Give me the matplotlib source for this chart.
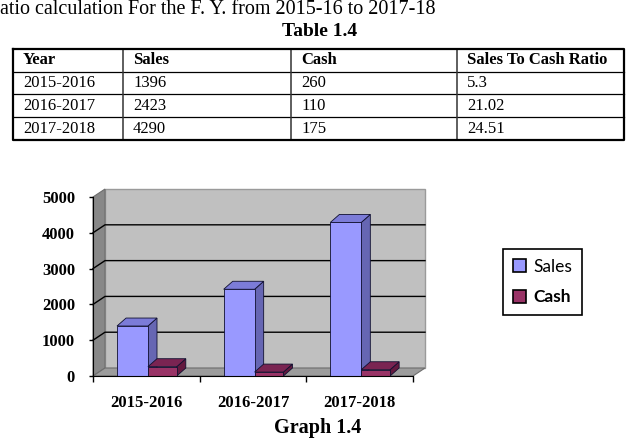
import numpy as np
import matplotlib.pyplot as plt
from matplotlib.patches import Polygon

# data
years = ['2015-2016', '2016-2017', '2017-2018']
sales = [1396, 2423, 4290]
cash = [260, 110, 175]
ratio = ['5.3', '21.02', '24.51']
header = ['Year', 'Sales', 'Cash', 'Sales To Cash Ratio']
yticks = [0, 1000, 2000, 3000, 4000, 5000]

W, H = 629, 444
fig = plt.figure(figsize=(W / 100, H / 100), dpi=100)

# page layer in pixel units (text + table)
page = fig.add_axes([0, 0, 1, 1])
page.set_xlim(0, W)
page.set_ylim(H, 0)
page.axis('off')

serif = 'Liberation Serif'
page.text(0, 10, 'atio calculation For the F. Y. from 2015-16 to 2017-18',
          family=serif, fontsize=14.5, va='center', ha='left')
page.text(320, 31, 'Table 1.4', family=serif, fontsize=14, fontweight='bold',
          va='center', ha='center')

cols = [13, 123, 291, 457, 624]
rows = np.linspace(49, 140, 5)
for yy in rows[1:-1]:
    page.plot([cols[0], cols[-1]], [yy, yy], color='black', lw=0.9)
for xx in cols[1:-1]:
    page.plot([xx, xx], [rows[0], rows[-1]], color='#333333', lw=1.1)
page.plot([cols[0], cols[-1], cols[-1], cols[0], cols[0]],
          [rows[0], rows[0], rows[-1], rows[-1], rows[0]], color='black', lw=1.6)

table_rows = [header] + [[years[i], str(sales[i]), str(cash[i]), ratio[i]] for i in range(3)]
for r, cells in enumerate(table_rows):
    yc = (rows[r] + rows[r + 1]) / 2
    for c, txt in enumerate(cells):
        page.text(cols[c] + 10, yc, txt, family=serif, fontsize=12,
                  fontweight='bold' if r == 0 else 'normal', va='center', ha='left')

page.text(318, 428, 'Graph 1.4', family=serif, fontsize=14.5, fontweight='bold',
          va='center', ha='center')

# chart: axes box is the front plane of the pseudo-3D plot
x0, x1, y0, y1 = 93, 413, 376, 197
ax = fig.add_axes([x0 / W, (H - y0) / H, (x1 - x0) / W, (y0 - y1) / H])
ax.set_xlim(0, 3)
ax.set_ylim(0, 5000)
ax.patch.set_visible(False)

dx, dy = 0.1125, 223      # wall depth
bdx, bdy = 0.085, 223     # bar depth
ymax = yticks[-1]

ax.add_patch(Polygon([(dx, dy), (3 + dx, dy), (3 + dx, ymax + dy), (dx, ymax + dy)],
                     fc='#C0C0C0', ec='#9A9A9A', lw=1, clip_on=False, zorder=0))
ax.add_patch(Polygon([(0, 0), (dx, dy), (dx, ymax + dy), (0, ymax)],
                     fc='#888888', ec='#6E6E6E', lw=0.8, clip_on=False, zorder=0.5))
ax.add_patch(Polygon([(0, 0), (3, 0), (3 + dx, dy), (dx, dy)],
                     fc='#9C9C9C', ec='#6E6E6E', lw=0.8, clip_on=False, zorder=0.5))
for v in yticks[1:-1]:
    ax.plot([0, dx, 3 + dx], [v, v + dy, v + dy], color='black', lw=1, clip_on=False, zorder=1)

xs = np.arange(len(years))
s_left, s_w = 0.225, 0.29
c_left, c_w = 0.515, 0.27


def bar3d(left, width, h, side, top, z):
    r = left + width
    ax.add_patch(Polygon([(r, 0), (r + bdx, bdy), (r + bdx, h + bdy), (r, h)],
                         fc=side, ec='#101030', lw=0.6, clip_on=False, zorder=z))
    ax.add_patch(Polygon([(left, h), (r, h), (r + bdx, h + bdy), (left + bdx, h + bdy)],
                         fc=top, ec='#101030', lw=0.6, clip_on=False, zorder=z))


for i in xs:
    bar3d(i + s_left, s_w, sales[i], '#6666B3', '#7C7CD8', 3)
    bar3d(i + c_left, c_w, cash[i], '#64193F', '#7A2452', 5)
sb = ax.bar(xs + s_left, sales, width=s_w, align='edge', color='#9999FF',
            edgecolor='#101030', lw=0.6, zorder=4, label='Sales')
cb = ax.bar(xs + c_left, cash, width=c_w, align='edge', color='#993366',
            edgecolor='#101030', lw=0.6, zorder=6, label='Cash')

for s in ['top', 'right']:
    ax.spines[s].set_visible(False)
ax.spines['left'].set_zorder(7)
ax.spines['bottom'].set_zorder(7)
ax.set_yticks(yticks)
ax.set_yticklabels([str(v) for v in yticks], family=serif, fontweight='bold', fontsize=12)
ax.tick_params(axis='y', direction='out', length=3, width=1, pad=10)
ax.set_xticks([0, 1, 2, 3])
ax.set_xticklabels([])
ax.set_xticks(xs + 0.5, minor=True)
ax.set_xticklabels(years, minor=True, family=serif, fontweight='bold', fontsize=12)
ax.tick_params(axis='x', which='major', direction='out', length=4, width=1)
ax.tick_params(axis='x', which='minor', length=0, pad=14)

leg = fig.legend(handles=[sb, cb], labels=['Sales', 'Cash'], loc='upper left',
                 bbox_to_anchor=(503 / W, 1 - 249 / H), frameon=True, fancybox=False,
                 edgecolor='black', framealpha=1, handlelength=0.8, handleheight=0.8,
                 handletextpad=0.4, labelspacing=0.85, borderpad=0.55, borderaxespad=0,
                 prop={'family': 'Lato', 'size': 12.5})
leg.get_frame().set_linewidth(1.2)
leg.get_texts()[1].set_fontweight('bold')
for p in leg.get_patches():
    p.set_edgecolor('black')
    p.set_linewidth(1.2)

fig.savefig('out.png', dpi=100)
